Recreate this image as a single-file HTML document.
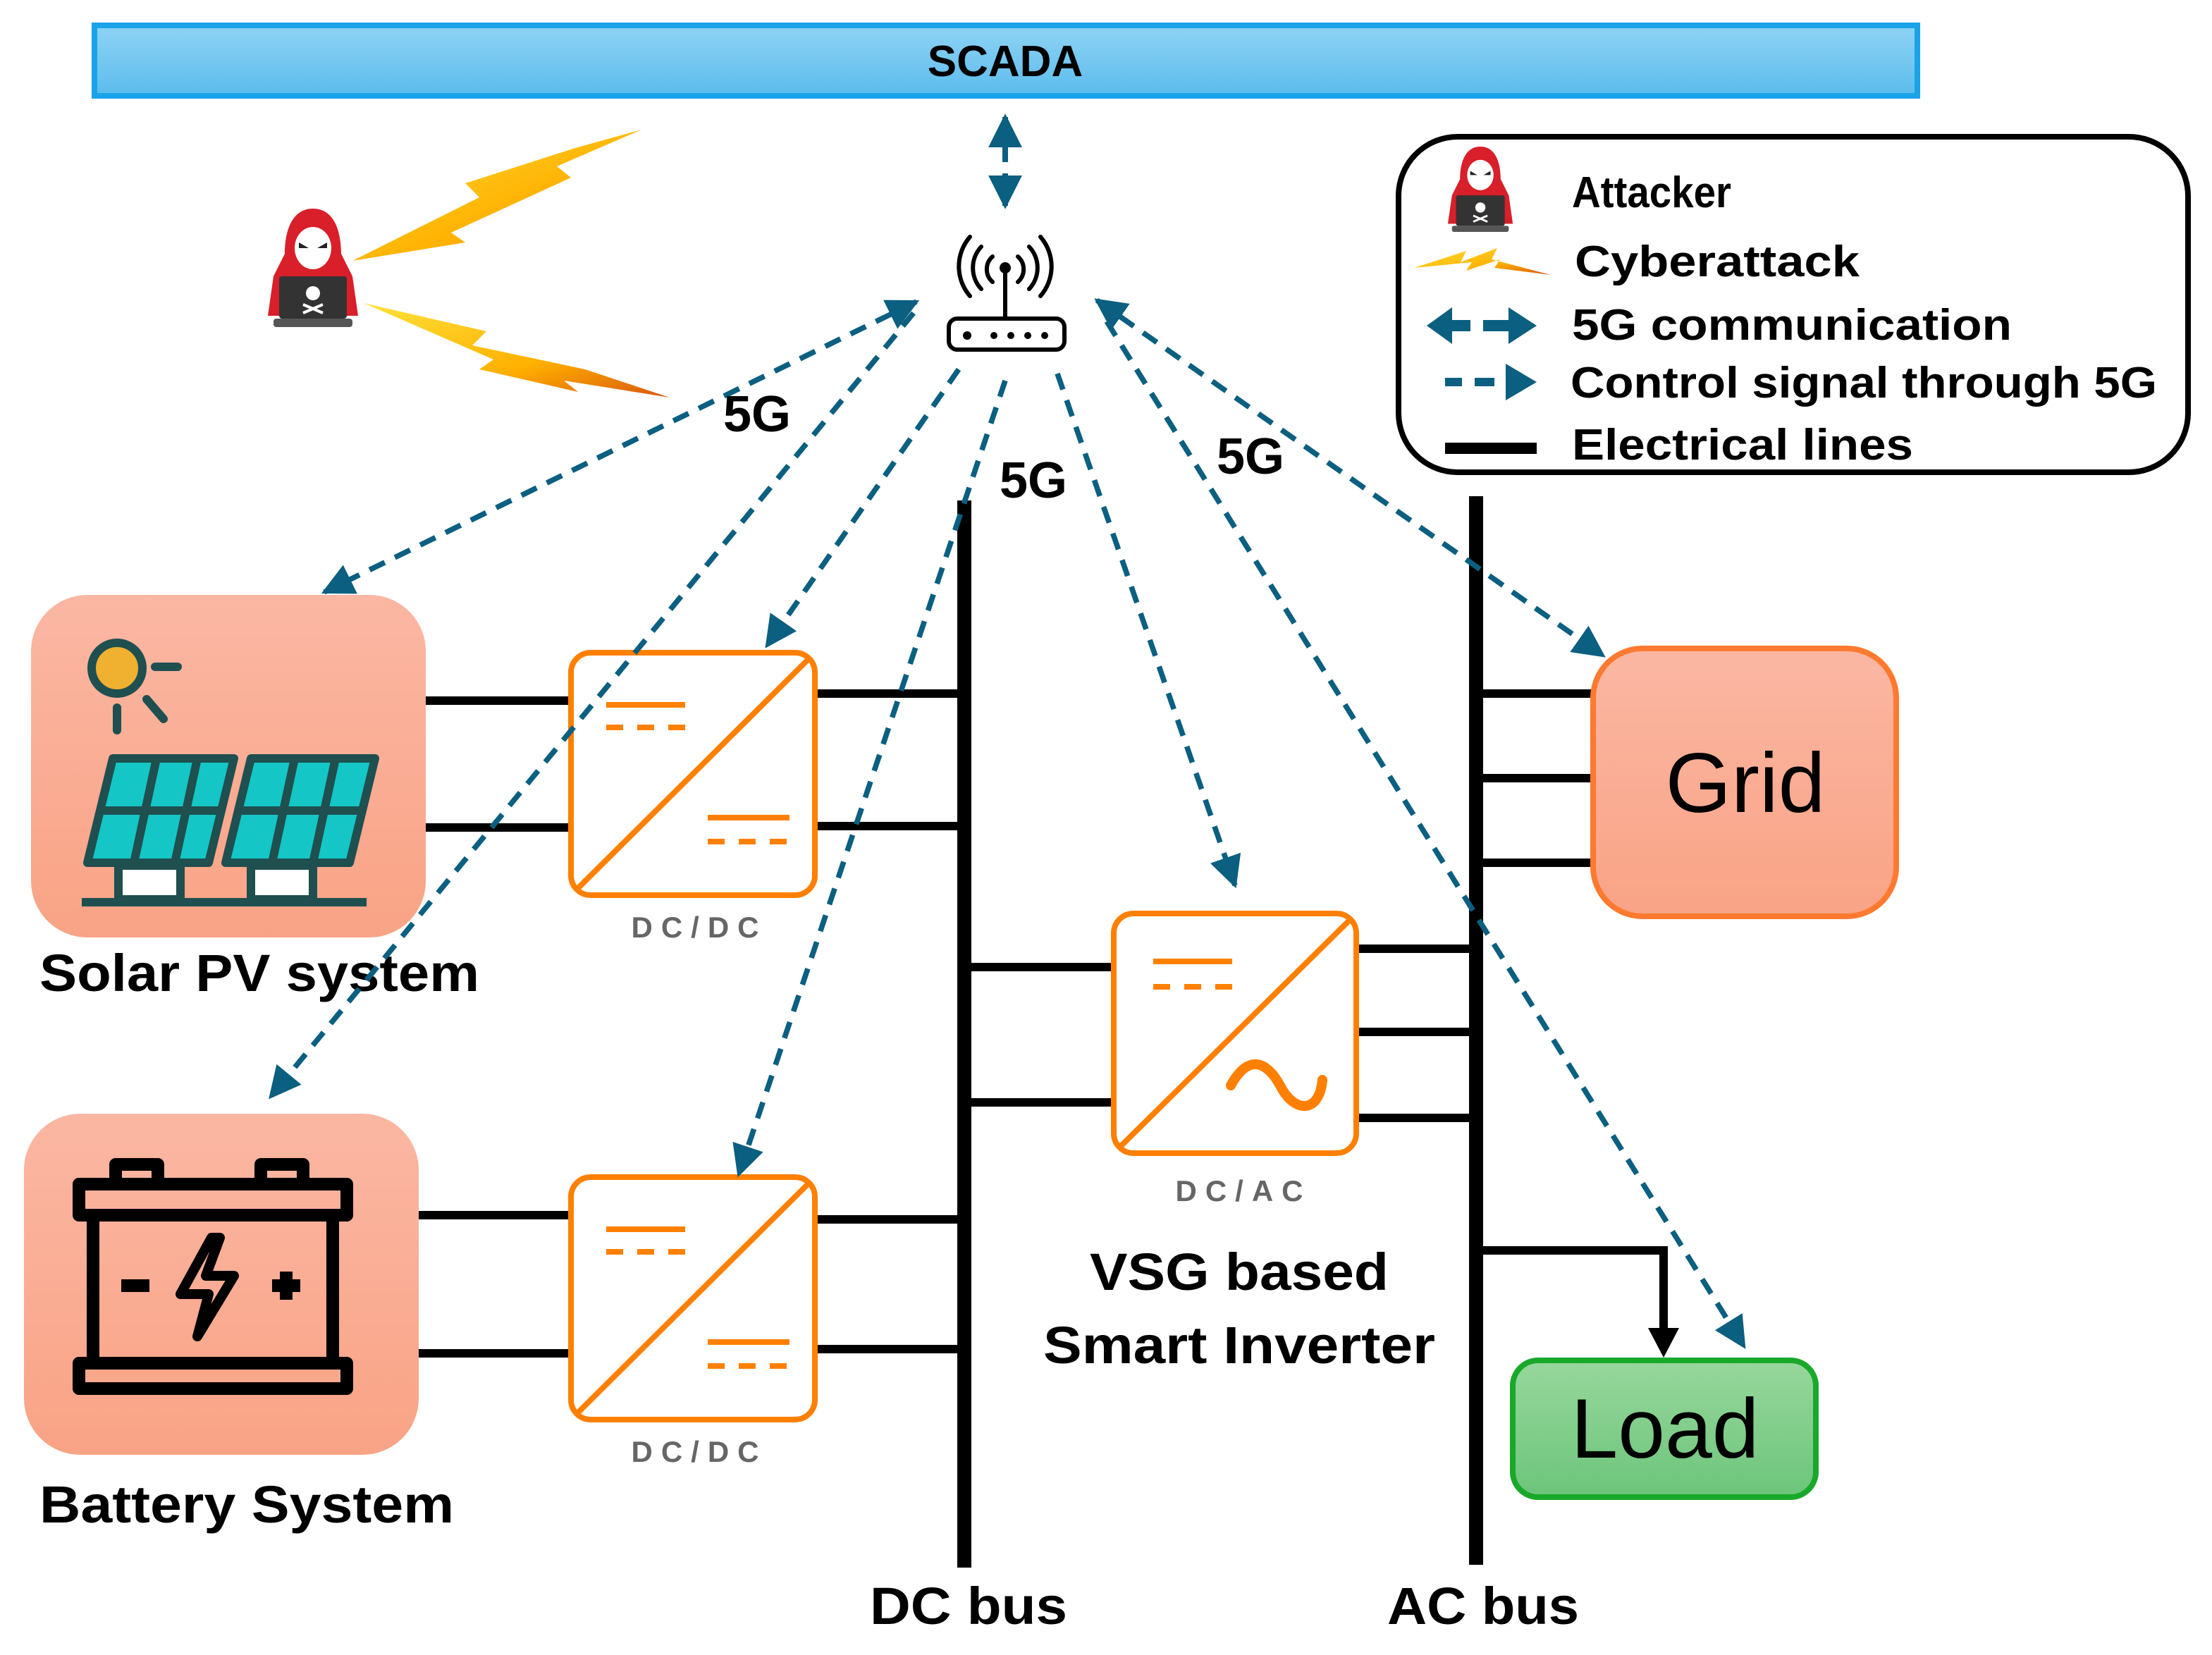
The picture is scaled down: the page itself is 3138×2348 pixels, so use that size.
<!DOCTYPE html>
<html><head><meta charset="utf-8"><style>
html,body{margin:0;padding:0;background:#fff;}
svg{display:block;}
text{font-family:"Liberation Sans",sans-serif;}
</style></head><body>
<svg width="3138" height="2348" viewBox="0 0 1569 1174" xmlns="http://www.w3.org/2000/svg">
<defs>
<linearGradient id="sc" x1="0" y1="0" x2="0" y2="1"><stop offset="0" stop-color="#8fd3f5"/><stop offset="1" stop-color="#5bbcec"/></linearGradient>
<linearGradient id="sal" x1="0" y1="0" x2="0" y2="1"><stop offset="0" stop-color="#fbb7a3"/><stop offset="1" stop-color="#f9a385"/></linearGradient>
<linearGradient id="grn" x1="0" y1="0" x2="0" y2="1"><stop offset="0" stop-color="#97d79c"/><stop offset="1" stop-color="#6cc57a"/></linearGradient>
<linearGradient id="bolt" x1="0" y1="0" x2="1" y2="1"><stop offset="0" stop-color="#ffe23a"/><stop offset="0.6" stop-color="#ffb000"/><stop offset="1" stop-color="#d9560a"/></linearGradient>
<marker id="ah" viewBox="0 0 10 10" refX="9" refY="5" markerWidth="6" markerHeight="6" markerUnits="strokeWidth" orient="auto-start-reverse"><path d="M0,0 L10,5 L0,10 z" fill="#0b5f80"/></marker>
<g id="hacker">
<path d="M32,0 C16,0 12,18 12,32 L4,48 L0,76 L64,76 L60,48 L52,32 C52,18 48,0 32,0z" fill="#d81f2a"/>
<ellipse cx="32" cy="28" rx="13" ry="15" fill="#fff"/>
<path d="M22,24 L29,28 L22,28z M42,24 L35,28 L42,28z" fill="#222"/>
<rect x="8" y="48" width="48" height="30" rx="2" fill="#333"/>
<rect x="4" y="78" width="56" height="6" rx="2" fill="#555"/>
<circle cx="32" cy="60" r="5" fill="#fff"/>
<path d="M25,68 L39,74 M39,68 L25,74" stroke="#fff" stroke-width="2"/>
</g>
</defs>

<!-- SCADA -->
<rect x="67" y="18" width="1293" height="50" fill="url(#sc)" stroke="#1aa3e8" stroke-width="4"/>
<text x="713" y="54" font-size="31" font-weight="bold" text-anchor="middle">SCADA</text>

<!-- attacker & bolts -->
<use href="#hacker" x="190" y="148"/>
<path d="M250,185 L340,140 L330,130 L408,105 L455,92 L395,118 L405,126 L320,165 L330,172z" fill="url(#bolt)"/>
<path d="M258,215 L345,235 L335,245 L415,262 L475,282 L400,270 L410,278 L340,262 L350,255z" fill="url(#bolt)"/>

<!-- router -->
<g fill="none" stroke="#000" stroke-width="3" stroke-linecap="round">
<rect x="673" y="226" width="82" height="22" rx="6"/>
<line x1="713" y1="190" x2="713" y2="226"/>
<path d="M704,182 a12,12 0 0 0 0,18 M722,182 a12,12 0 0 1 0,18"/>
<path d="M696,175 a22,22 0 0 0 0,30 M730,175 a22,22 0 0 1 0,30"/>
<path d="M688,168 a32,32 0 0 0 0,42 M738,168 a32,32 0 0 1 0,42"/>
</g>
<circle cx="713" cy="190" r="4"/>
<g fill="#000"><circle cx="686" cy="238" r="3"/><circle cx="705" cy="238" r="2.5"/><circle cx="717" cy="238" r="2.5"/><circle cx="729" cy="238" r="2.5"/><circle cx="741" cy="238" r="2.5"/></g>

<!-- legend -->
<rect x="992" y="97" width="560" height="238" rx="42" fill="#fff" stroke="#000" stroke-width="4"/>
<use href="#hacker" transform="translate(1027,104) scale(0.72)"/>
<text x="1115" y="147" font-size="31" font-weight="bold" textLength="113" lengthAdjust="spacingAndGlyphs">Attacker</text>
<path d="M1003,190 L1040,178 L1036,186 L1062,176 L1058,184 L1100,195 L1060,190 L1064,184 L1040,192 L1044,186z" fill="url(#bolt)"/>
<text x="1117" y="196" font-size="31" font-weight="bold" textLength="202" lengthAdjust="spacingAndGlyphs">Cyberattack</text>
<path d="M1012,231 L1030,218 L1030,244z" fill="#0b5f80"/>
<rect x="1029" y="227" width="14" height="8" fill="#0b5f80"/>
<rect x="1052" y="227" width="20" height="8" fill="#0b5f80"/>
<path d="M1090,231 L1070,218 L1070,244z" fill="#0b5f80"/>
<text x="1115" y="241" font-size="31" font-weight="bold" textLength="312" lengthAdjust="spacingAndGlyphs">5G communication</text>
<rect x="1025" y="268" width="12" height="6" fill="#0b5f80"/>
<rect x="1046" y="268" width="14" height="6" fill="#0b5f80"/>
<path d="M1090,271 L1068,258 L1068,284z" fill="#0b5f80"/>
<text x="1114" y="282" font-size="31" font-weight="bold" textLength="416" lengthAdjust="spacingAndGlyphs">Control signal through 5G</text>
<line x1="1025" y1="318" x2="1090" y2="318" stroke="#000" stroke-width="8"/>
<text x="1115" y="326" font-size="31" font-weight="bold" textLength="242" lengthAdjust="spacingAndGlyphs">Electrical lines</text>

<!-- buses -->
<line x1="684" y1="355" x2="684" y2="1112" stroke="#000" stroke-width="10"/>
<line x1="1047" y1="352" x2="1047" y2="1110" stroke="#000" stroke-width="10"/>
<text x="617" y="1152" font-size="37" font-weight="bold" textLength="140" lengthAdjust="spacingAndGlyphs">DC bus</text>
<text x="984" y="1152" font-size="37" font-weight="bold" textLength="136" lengthAdjust="spacingAndGlyphs">AC bus</text>

<!-- electrical lines -->
<g stroke="#000" stroke-width="6">
<line x1="302" y1="497" x2="405" y2="497"/><line x1="302" y1="587" x2="405" y2="587"/>
<line x1="578" y1="492" x2="684" y2="492"/><line x1="578" y1="586" x2="684" y2="586"/>
<line x1="297" y1="862" x2="405" y2="862"/><line x1="297" y1="960" x2="405" y2="960"/>
<line x1="578" y1="865" x2="684" y2="865"/><line x1="578" y1="957" x2="684" y2="957"/>
<line x1="684" y1="686" x2="790" y2="686"/><line x1="684" y1="782" x2="790" y2="782"/>
<line x1="962" y1="673" x2="1047" y2="673"/><line x1="962" y1="732" x2="1047" y2="732"/><line x1="962" y1="793" x2="1047" y2="793"/>
<line x1="1047" y1="492" x2="1130" y2="492"/><line x1="1047" y1="552" x2="1130" y2="552"/><line x1="1047" y1="612" x2="1130" y2="612"/>
</g>
<path d="M1050,887 L1180,887 L1180,945" fill="none" stroke="#000" stroke-width="6"/>
<path d="M1169,942 L1191,942 L1180,963z" fill="#000"/>

<!-- PV box -->
<rect x="22" y="422" width="280" height="243" rx="40" fill="url(#sal)"/>
<circle cx="83" cy="474" r="18" fill="#f0b030" stroke="#1f4f4f" stroke-width="6"/>
<g stroke="#1f4f4f" stroke-width="6" stroke-linecap="round"><line x1="110" y1="473" x2="126" y2="473"/><line x1="83" y1="502" x2="83" y2="518"/><line x1="104" y1="496" x2="116" y2="510"/></g>
<g stroke="#1f4f4f" stroke-width="6" fill="#14c6c6" stroke-linejoin="round">
<path d="M80,538 L166,538 L148,612 L62,612z"/><path d="M178,538 L266,538 L248,612 L160,612z"/>
<path d="M72,575 L157,575 M111,538 L95,612 M140,538 L124,612 M169,575 L257,575 M209,538 L193,612 M238,538 L222,612" fill="none"/>
<rect x="84" y="614" width="44" height="24" fill="#fff"/><rect x="178" y="614" width="44" height="24" fill="#fff"/>
<line x1="58" y1="640" x2="260" y2="640"/>
</g>
<text x="28" y="703" font-size="37" font-weight="bold" textLength="312" lengthAdjust="spacingAndGlyphs">Solar PV system</text>

<!-- Battery box -->
<rect x="17" y="790" width="280" height="242" rx="40" fill="url(#sal)"/>
<g stroke="#000" stroke-width="9" fill="none" stroke-linejoin="round">
<rect x="56" y="840" width="190" height="22"/><rect x="66" y="862" width="170" height="105"/><rect x="56" y="967" width="190" height="18"/>
<rect x="82" y="826" width="30" height="14"/><rect x="185" y="826" width="30" height="14"/>
<path d="M150,878 L128,918 L148,918 L140,948 L166,905 L146,905 L156,878z" stroke-width="7"/>
<line x1="86" y1="912" x2="106" y2="912"/><line x1="193" y1="912" x2="213" y2="912"/><line x1="203" y1="902" x2="203" y2="922"/>
</g>
<circle cx="150" cy="840" r="3"/>
<text x="28" y="1080" font-size="37" font-weight="bold" textLength="294" lengthAdjust="spacingAndGlyphs">Battery System</text>

<!-- converters -->
<g fill="#fff" stroke="#ff8000" stroke-width="4">
<rect x="405" y="463" width="173" height="172" rx="14"/>
<rect x="405" y="835" width="173" height="172" rx="14"/>
<rect x="790" y="648" width="172" height="170" rx="14"/>
</g>
<g stroke="#ff8000" stroke-width="4" fill="none">
<line x1="408" y1="632" x2="575" y2="466"/>
<line x1="408" y1="1004" x2="575" y2="838"/>
<line x1="793" y1="815" x2="959" y2="651"/>
<line x1="430" y1="500" x2="486" y2="500"/><line x1="430" y1="516" x2="486" y2="516" stroke-dasharray="12 10"/>
<line x1="502" y1="580" x2="560" y2="580"/><line x1="502" y1="597" x2="560" y2="597" stroke-dasharray="12 10"/>
<line x1="430" y1="872" x2="486" y2="872"/><line x1="430" y1="888" x2="486" y2="888" stroke-dasharray="12 10"/>
<line x1="502" y1="952" x2="560" y2="952"/><line x1="502" y1="969" x2="560" y2="969" stroke-dasharray="12 10"/>
<line x1="818" y1="682" x2="874" y2="682"/><line x1="818" y1="700" x2="874" y2="700" stroke-dasharray="12 10"/>
<path d="M873,770 C885,748 898,752 908,770 C918,790 936,790 938,766" stroke-width="7" stroke-linecap="round"/>
</g>
<g fill="#666" font-size="21" font-weight="bold" text-anchor="middle" letter-spacing="6">
<text x="496" y="665">DC/DC</text><text x="496" y="1037">DC/DC</text><text x="882" y="852">DC/AC</text>
</g>
<text x="773" y="915" font-size="37" font-weight="bold" textLength="212" lengthAdjust="spacingAndGlyphs">VSG based</text>
<text x="740" y="967" font-size="37" font-weight="bold" textLength="278" lengthAdjust="spacingAndGlyphs">Smart Inverter</text>

<!-- Grid / Load -->
<rect x="1130" y="460" width="215" height="190" rx="35" fill="url(#sal)" stroke="#ff7a30" stroke-width="4"/>
<text x="1238" y="576" font-size="60" text-anchor="middle">Grid</text>
<rect x="1073" y="965" width="215" height="97" rx="18" fill="url(#grn)" stroke="#1aa82a" stroke-width="4"/>
<text x="1181" y="1034" font-size="60" text-anchor="middle">Load</text>

<!-- 5G dashed lines -->
<g stroke="#0b5f80" stroke-width="3.8" stroke-dasharray="12 8" fill="none">
<line x1="713" y1="83" x2="713" y2="146" marker-start="url(#ah)" marker-end="url(#ah)" stroke-width="4"/>
<line x1="650" y1="214" x2="230" y2="420" marker-start="url(#ah)" marker-end="url(#ah)"/>
<line x1="648" y1="222" x2="192" y2="778" marker-end="url(#ah)"/>
<line x1="680" y1="262" x2="544" y2="458" marker-end="url(#ah)"/>
<line x1="713" y1="270" x2="524" y2="833" marker-end="url(#ah)"/>
<line x1="750" y1="265" x2="876" y2="628" marker-end="url(#ah)"/>
<line x1="778" y1="213" x2="1137" y2="465" marker-start="url(#ah)" marker-end="url(#ah)"/>
<line x1="785" y1="228" x2="1237" y2="955" marker-end="url(#ah)"/>
</g>
<g font-size="36" font-weight="bold">
<text x="513" y="306">5G</text><text x="709" y="353">5G</text><text x="863" y="336">5G</text>
</g>
</svg>
</body></html>
